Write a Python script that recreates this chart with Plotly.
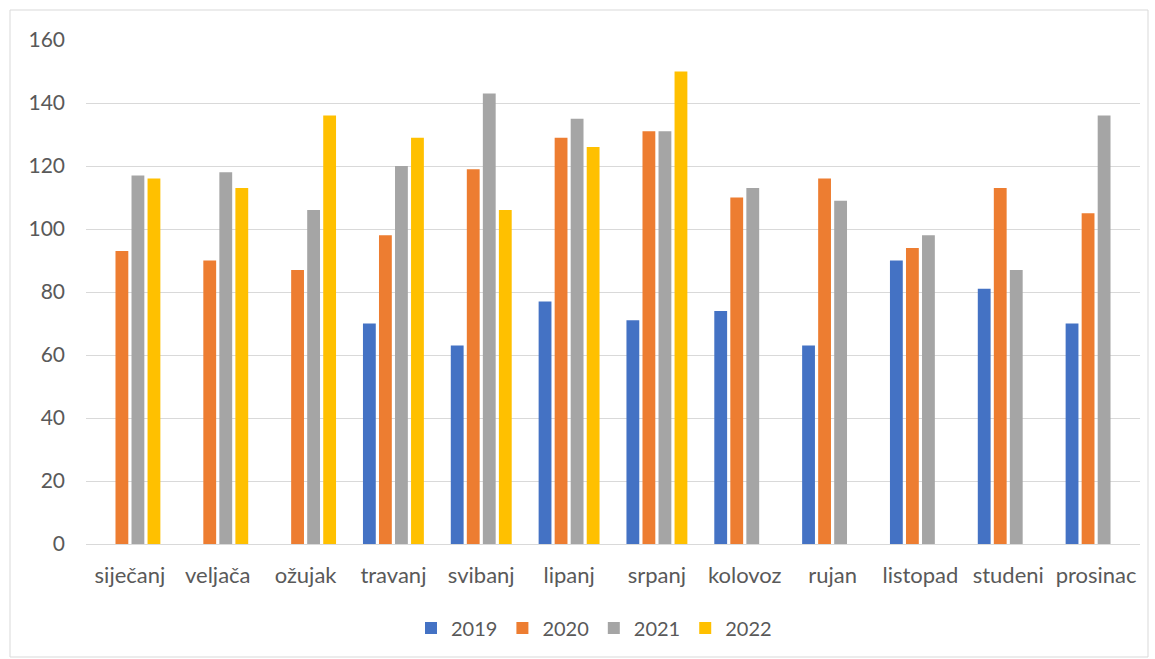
import plotly.graph_objects as go

months = ["siječanj", "veljača", "ožujak", "travanj", "svibanj", "lipanj",
          "srpanj", "kolovoz", "rujan", "listopad", "studeni", "prosinac"]
y2019 = [None, None, None, 70, 63, 77, 71, 74, 63, 90, 81, 70]
y2020 = [93, 90, 87, 98, 119, 129, 131, 110, 116, 94, 113, 105]
y2021 = [117, 118, 106, 120, 143, 135, 131, 113, 109, 98, 87, 136]
y2022 = [116, 113, 136, 129, 106, 126, 150, None, None, None, None, None]
series_names = ["2019", "2020", "2021", "2022"]
colors = ["#4472C4", "#ED7D31", "#A5A5A5", "#FFC000"]

W, H = 1155, 659
L, R, T, B = 86, 15, 40, 115
pw, ph = W - L - R, H - T - B

fig = go.Figure()
for name, vals, c in zip(series_names, [y2019, y2020, y2021, y2022], colors):
    fig.add_trace(go.Bar(x=months, y=vals, name=name, marker=dict(color=c, line=dict(width=0))))

font = dict(family="Lato, Open Sans, sans-serif", size=21, color="#595959")
xfont = dict(family="Lato, Open Sans, sans-serif", size=22, color="#595959")
lfont = dict(family="Lato, Open Sans, sans-serif", size=20, color="#595959")

def px2x(p):
    return (p - L) / pw

def px2y(p):
    return (H - B - p) / ph

fig.update_layout(
    width=W, height=H,
    margin=dict(l=L, r=R, t=T, b=B),
    paper_bgcolor="white", plot_bgcolor="white",
    barmode="group", bargap=0.27, bargroupgap=0.2,
    font=font,
    showlegend=True,
    legend=dict(orientation="h", x=px2x(594), xanchor="center", y=px2y(628), yanchor="middle",
                font=lfont, itemwidth=30, traceorder="normal"),
    xaxis=dict(showgrid=False, showline=True, linecolor="#D9D9D9", linewidth=1,
               ticks="", tickfont=xfont, ticklabelstandoff=12),
    yaxis=dict(range=[0, 160], dtick=20, showgrid=True, gridcolor="#D9D9D9", gridwidth=1,
               zeroline=False, showline=False, ticks="", tickfont=font, ticklabelstandoff=20),
    shapes=[dict(type="rect", xref="paper", yref="paper",
                 x0=px2x(10), x1=px2x(1148), y0=px2y(657), y1=px2y(10),
                 line=dict(color="#D9D9D9", width=1), fillcolor="rgba(0,0,0,0)", layer="below")],
)

fig.write_html("out.html", config={"displayModeBar": False},
               post_script="document.body.style.margin='0';")
